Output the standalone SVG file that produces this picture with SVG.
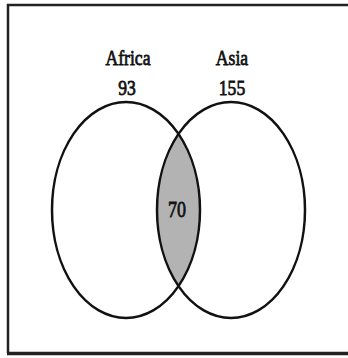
<svg xmlns="http://www.w3.org/2000/svg" width="348" height="358" viewBox="0 0 348 358">
<style>
.lbl{font-family:"Liberation Serif","Times New Roman",serif;fill:#111;stroke:#111;stroke-width:0.8;text-anchor:middle}
.set{fill:none;stroke:#111;stroke-width:2.5}
</style>
<defs>
<clipPath id="clipL"><ellipse cx="126" cy="210" rx="74" ry="108"/></clipPath>
</defs>
<rect width="348" height="358" fill="#fff"/>
<g id="frame" fill="none" stroke="#222">
<path d="M8 353 V5 H348" stroke-width="2.5"/>
<path d="M7 353.5 H348" stroke-width="3.5"/>
</g>
<g id="intersection">
<ellipse cx="231" cy="210" rx="74" ry="108" fill="#b3b3b3" clip-path="url(#clipL)"/>
<text class="lbl" x="177" y="217" font-size="24" transform="translate(177 0) scale(0.75 1) translate(-177 0)">70</text>
</g>
<g id="africa">
<ellipse class="set" cx="126" cy="210" rx="74" ry="108"/>
<text class="lbl" x="128" y="65" font-size="22" transform="translate(128 0) scale(0.8 1) translate(-128 0)">Africa</text>
<text class="lbl" x="127" y="95" font-size="22" transform="translate(127 0) scale(0.8 1) translate(-127 0)">93</text>
</g>
<g id="asia">
<ellipse class="set" cx="231" cy="210" rx="74" ry="108"/>
<text class="lbl" x="232" y="65" font-size="22" transform="translate(232 0) scale(0.8 1) translate(-232 0)">Asia</text>
<text class="lbl" x="232" y="95" font-size="22" transform="translate(232 0) scale(0.8 1) translate(-232 0)">155</text>
</g>
</svg>
